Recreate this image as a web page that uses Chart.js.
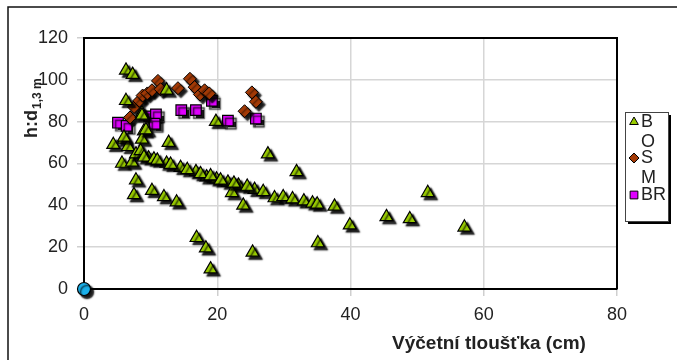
<!DOCTYPE html>
<html>
<head>
<meta charset="utf-8">
<script src="https://cdn.jsdelivr.net/npm/chart.js@4"></script>
<style>
  body { margin: 0; background: #fff; }
  #wrap { width: 677px; height: 360px; }
</style>
</head>
<body>
<div id="wrap"><canvas id="chart" width="677" height="360"></canvas></div>
<script>
// B - green triangles
const bX = [6.3, 7.3, 6.3, 12.4, 19.8, 8.7, 9.0, 8.7, 4.4, 6.0, 6.6, 12.7, 5.7, 7.2, 7.8, 9.7, 12.4, 14.5, 16.8, 18.4,
  19.9, 7.8, 7.5, 10.2, 12.0, 13.9, 27.6, 31.9, 21.6, 23.2, 22.2, 23.9, 25.6, 26.9, 28.6, 29.9, 31.3, 33.0, 34.3, 35.0,
  37.6, 39.9, 16.9, 18.3, 19.0, 25.3, 35.1, 51.6, 45.4, 48.9, 57.1, 8.5, 9.0, 10.5, 11.0, 13.0, 15.5, 17.5, 19.0, 20.5,
  22.5, 24.5, 8.7, 9.3, 6.0];
const bY = [104.5, 102.5, 90, 95, 80, 84, 75.5, 71.5, 69, 71.5, 68, 70, 60, 60.5, 64.5, 62.5, 60, 58, 56, 53.5,
  52.5, 52, 45, 47, 44, 41.5, 64.5, 56, 51, 49.5, 46, 40, 47.5, 46.5, 43.5, 44, 43, 42, 41, 40.5,
  39.5, 30.5, 24.5, 19.5, 9.5, 17.5, 22, 46, 34.5, 33.5, 29.5, 66, 63, 62, 61.5, 59.5, 57, 55, 54, 52,
  50.5, 49, 83, 76, 72.5];
// S - brown diamonds
const sX = [6.9, 7.5, 8.3, 8.8, 9.5, 10.2, 11.1, 11.5, 14.1, 15.9, 16.6, 17.4, 18.1, 18.8, 24.1, 25.2, 25.8];
const sY = [82, 87, 90, 92.5, 93.5, 95, 99.5, 95.5, 96, 100.5, 96.5, 93, 95, 93.5, 85, 94, 89.5];
// BR - magenta squares
const brX = [5.1, 6.4, 9.8, 10.8, 10.6, 14.6, 16.8, 19.2, 21.6, 25.8];
const brY = [79.5, 78, 82.5, 83.5, 79, 85.5, 85.5, 90, 80.5, 81.5];
// lone point at origin
const oX = [0];
const oY = [0];

const xTicks = [0, 20, 40, 60, 80];
const yTicks = [0, 20, 40, 60, 80, 100, 120];
const legendNames = ['B', 'O', 'S', 'M', 'BR'];

function pts(xs, ys) {
  return xs.map((x, i) => ({ x: x, y: ys[i] }));
}

const GREEN = '#99cc00';
const BROWN = '#a33a06';
const MAGENTA = '#e000ff';
const CYAN = '#1ab0ea';
const FONT = '"Liberation Sans", Arial';

const markerShadow = {
  id: 'markerShadow',
  beforeDatasetsDraw(chart) {
    const ctx = chart.ctx;
    const a = chart.chartArea;
    // top and right edges of the plot box
    ctx.save();
    ctx.strokeStyle = '#000';
    ctx.lineWidth = 2;
    ctx.beginPath();
    ctx.moveTo(a.left, a.top);
    ctx.lineTo(a.right, a.top);
    ctx.lineTo(a.right, a.bottom);
    ctx.stroke();
    ctx.restore();
    ctx.save();
    ctx.shadowColor = 'rgba(0,0,0,0.9)';
    ctx.shadowOffsetX = 3;
    ctx.shadowOffsetY = 3;
    ctx.shadowBlur = 1.5;
  },
  afterDatasetsDraw(chart) {
    chart.ctx.restore();
  }
};

const extras = {
  id: 'extras',
  beforeDraw(chart) {
    const ctx = chart.ctx;
    ctx.save();
    ctx.fillStyle = '#fff';
    ctx.fillRect(0, 0, chart.width, chart.height);
    ctx.restore();
  },
  afterDraw(chart) {
    const ctx = chart.ctx;
    ctx.save();
    // outer frame
    ctx.strokeStyle = '#111';
    ctx.lineWidth = 1.5;
    ctx.beginPath();
    ctx.moveTo(8, 360);
    ctx.lineTo(8, 7);
    ctx.lineTo(677, 7);
    ctx.stroke();

    // x axis title, sits right of centre like the original
    ctx.fillStyle = '#222';
    ctx.font = 'bold 19px ' + FONT;
    ctx.textAlign = 'center';
    ctx.textBaseline = 'middle';
    ctx.fillText('Výčetní tloušťka (cm)', 489, 344);
    ctx.restore();

    // y axis title h:d1,3 m
    ctx.save();
    ctx.translate(37, 138);
    ctx.rotate(-Math.PI / 2);
    ctx.fillStyle = '#222';
    ctx.textBaseline = 'alphabetic';
    ctx.font = 'bold 18px ' + FONT;
    ctx.fillText('h:d', 0, 0);
    const w = ctx.measureText('h:d').width;
    ctx.font = 'bold 12px ' + FONT;
    ctx.fillText('1,3 m', w + 1, 4);
    ctx.restore();

    // legend
    ctx.save();
    const lx = 625, ly = 112, lw = 43, lh = 109;
    ctx.fillStyle = '#000';
    ctx.fillRect(lx + 3, ly + 3, lw, lh);
    ctx.fillStyle = '#fff';
    ctx.fillRect(lx, ly, lw, lh);
    ctx.strokeStyle = '#444';
    ctx.lineWidth = 1;
    ctx.strokeRect(lx + 0.5, ly + 0.5, lw, lh);
    const rows = [121, 141, 157, 177, 194];
    const styles = [
      { s: 'triangle', c: GREEN },
      null,
      { s: 'rectRot', c: BROWN },
      null,
      { s: 'rect', c: MAGENTA }
    ];
    ctx.font = '18px ' + FONT;
    ctx.textBaseline = 'middle';
    legendNames.forEach((n, i) => {
      ctx.fillStyle = '#222';
      ctx.fillText(n, 641, rows[i] + 1);
      const st = styles[i];
      if (st) {
        ctx.fillStyle = st.c;
        ctx.strokeStyle = '#000';
        ctx.lineWidth = 1;
        Chart.helpers.drawPoint(ctx, {
          pointStyle: st.s,
          radius: st.s === 'rect' ? 5.5 : 5,
          rotation: 0,
          borderWidth: 1
        }, 634, rows[i] + 1);
      }
    });
    ctx.restore();
  }
};

const ctx = document.getElementById('chart').getContext('2d');
const chart = new Chart(ctx, {
  type: 'scatter',
  data: {
    datasets: [
      { label: 'B', data: pts(bX, bY), pointStyle: 'triangle', pointRadius: 7.5, pointHoverRadius: 7.5,
        backgroundColor: GREEN, borderColor: '#000', borderWidth: 1.2 },
      { label: 'O', data: [] },
      { label: 'S', data: pts(sX, sY), pointStyle: 'rectRot', pointRadius: 6.5, pointHoverRadius: 6.5,
        backgroundColor: BROWN, borderColor: '#000', borderWidth: 1 },
      { label: 'M', data: [] },
      { label: 'BR', data: pts(brX, brY), pointStyle: 'rect', pointRadius: 7.5, pointHoverRadius: 7.5,
        backgroundColor: MAGENTA, borderColor: '#000', borderWidth: 1.2 },
      { label: 'origin', data: pts(oX, oY), pointStyle: 'circle', pointRadius: 6.5, pointHoverRadius: 6.5,
        backgroundColor: CYAN, borderColor: '#000', borderWidth: 1.2, clip: false }
    ]
  },
  options: {
    responsive: false,
    animation: false,
    layout: { padding: { left: 0, right: 60, top: 38, bottom: 0 } },
    plugins: {
      legend: { display: false },
      tooltip: { enabled: false }
    },
    scales: {
      x: {
        type: 'linear',
        min: 0, max: 80,
        afterBuildTicks: s => { s.ticks = xTicks.map(v => ({ value: v })); },
        afterFit: s => { s.height = 71; s.paddingLeft = 0; s.paddingRight = 0; },
        grid: { color: '#d6d6d6', lineWidth: 1.5, tickLength: 7, tickColor: '#cfcfcf' },
        border: { color: '#000', width: 2 },
        ticks: { color: '#222', padding: 8, font: { family: FONT, size: 18 } }
      },
      y: {
        type: 'linear',
        min: 0, max: 120,
        afterBuildTicks: s => { s.ticks = yTicks.map(v => ({ value: v })); },
        afterFit: s => { s.width = 84; s.paddingTop = 0; s.paddingBottom = 0; },
        grid: { color: '#d6d6d6', lineWidth: 1.5, tickLength: 7, tickColor: '#cfcfcf' },
        border: { color: '#000', width: 2 },
        ticks: { color: '#222', padding: 9, font: { family: FONT, size: 18 } }
      }
    }
  },
  plugins: [markerShadow, extras]
});
</script>
</body>
</html>
